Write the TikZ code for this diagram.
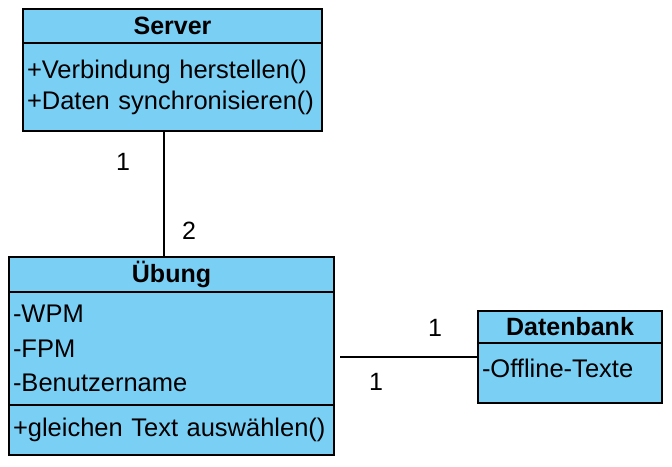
\documentclass[tikz,border=0pt]{standalone}
\usepackage{fontspec}
\setmainfont{Liberation Sans}
\definecolor{umlblue}{RGB}{122,207,245}
\begin{document}
\begin{tikzpicture}[x=1bp, y=-1bp, line width=1.6bp,
        part/.style={draw, fill=umlblue, anchor=north west, align=left, inner xsep=4bp, inner ysep=0pt, outer sep=0pt, font=\fontsize{25.5bp}{31bp}\selectfont},
        head/.style={part, align=center, font=\fontsize{25bp}{30bp}\selectfont\bfseries},
        mult/.style={font=\fontsize{25bp}{30bp}\selectfont}]
        \useasboundingbox (0,0) rectangle (672,467);
        \node[head, text width=291bp, minimum height=34bp] (serverhead) at (23,9) {Server};
        \node[part, text width=291bp, minimum height=88bp] (serverops) at (serverhead.south west) {+Verbindung herstellen()\\+Daten synchronisieren()};
        \node[head, text width=317bp, minimum height=35bp] (uebunghead) at (9,257) {Übung};
        \node[part, text width=317bp, minimum height=113bp, font=\fontsize{25.5bp}{34.5bp}\selectfont] (uebungattr) at (uebunghead.south west) {-WPM\\-FPM\\-Benutzername};
        \node[part, text width=317bp, minimum height=50bp] (uebungops) at (uebungattr.south west) {+gleichen Text auswählen()};
        \node[head, text width=176bp, minimum height=32bp] (dbhead) at (478,311) {Datenbank};
        \node[part, text width=176bp, minimum height=60bp, text depth=10bp] (dbattr) at (dbhead.south west) {-Offline-Texte};
        \coordinate (assoc) at (340,357);
        \draw ([xshift=-8.5bp]serverops.south) -- ([xshift=-7.5bp]uebunghead.north);
        \draw (assoc) -- (assoc -| dbattr.west);
        \node[mult] (mserver) at (123,162) {1};
        \node[mult] (muebung) at (189,231) {2};
        \node[mult] (mdb) at (435,328) {1};
        \node[mult] (massoc) at (376,382) {1};
    \end{tikzpicture}
\end{document}
